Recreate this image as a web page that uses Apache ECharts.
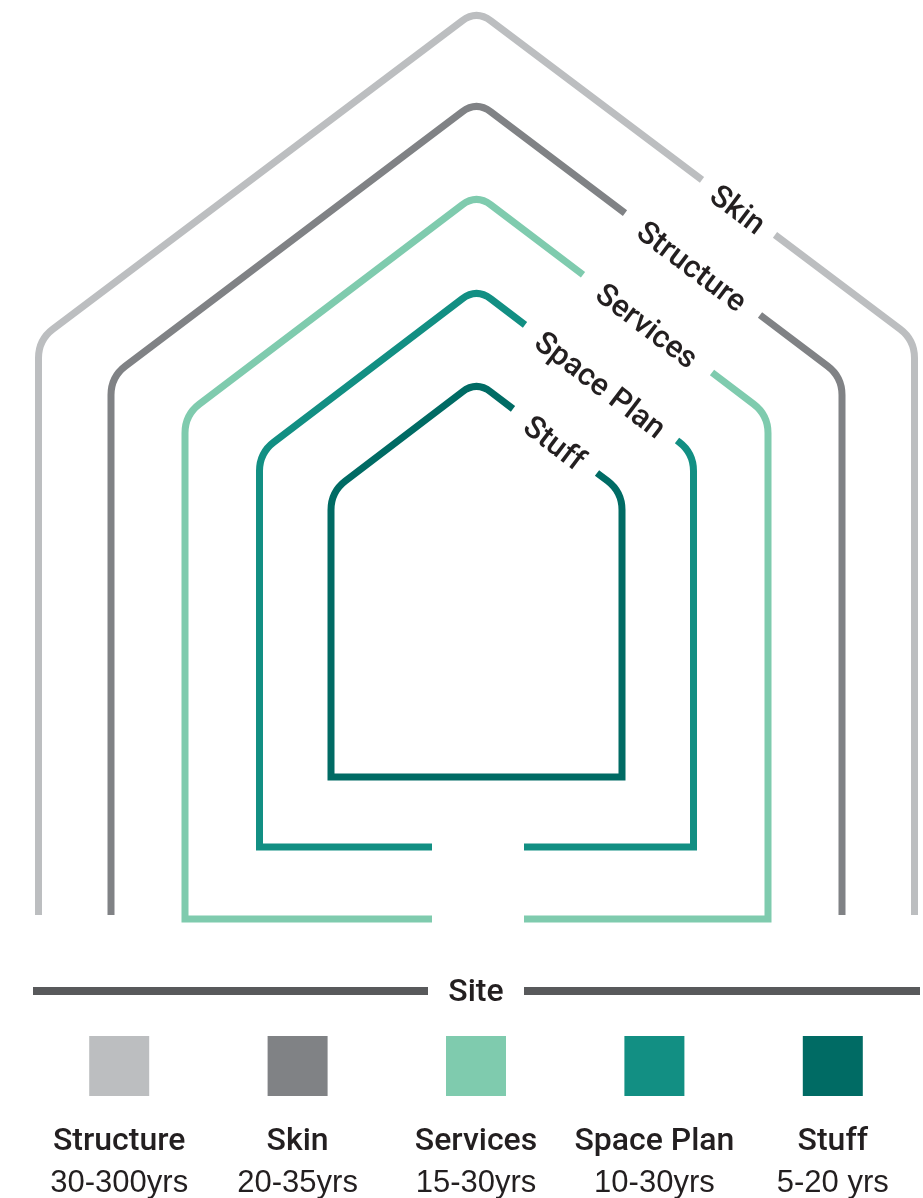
<!DOCTYPE html>
<html>
<head>
<meta charset="utf-8">
<script src="https://cdn.jsdelivr.net/npm/echarts@6/dist/echarts.min.js"></script>
<style>
html,body{margin:0;padding:0;background:#ffffff;}
#c{width:923px;height:1198px;}
</style>
</head>
<body>
<div id="c"></div>
<script>
// ---- Diagram layers (outermost first); units: px-scale diagram units, x relative to house axis, y above the site line
const diagramLabels  = ['Skin', 'Structure', 'Services', 'Space Plan', 'Stuff'];
const layerColors    = ['#BCBEC0', '#808285', '#7FCBAE', '#128F83', '#006B64'];
const layerHalfWidth = [438, 365.5, 291.5, 217, 145.5];
const layerApex      = [981, 890, 797, 703, 610];
const layerShoulder  = [651, 614, 576, 538, 499];
const layerBase      = [76, 76, 72, 144, 214];
const layerBottom    = ['open', 'open', 'split', 'split', 'closed'];
const labelGapStart  = [225.5, 148.5, 106.5, 48.5, 36.5];
const labelGapEnd    = [298.5, 283.5, 235.5, 200.5, 120.5];
const doorGap        = [-44.5, 47.5];
const siteSpan       = [-443.5, 443.5];
const siteGap        = [-48.5, 47.5];
const siteLabel      = 'Site';

// ---- Legend
const legendNames  = ['Structure', 'Skin', 'Services', 'Space Plan', 'Stuff'];
const legendYears  = ['30-300yrs', '20-35yrs', '15-30yrs', '10-30yrs', '5-20 yrs'];
const legendColors = ['#BCBEC0', '#808285', '#7FCBAE', '#128F83', '#006B64'];

const TEXT = '#231F20';
const FONT = '"Liberation Sans", Arial, Helvetica, sans-serif';
const FONT_M = 'Roboto, "Liberation Sans", Arial, sans-serif';
const LINE_W = 7;
const CORNER_R = 18;

function roundedPath(pts, radii) {
  let d = 'M' + pts[0][0] + ' ' + pts[0][1];
  for (let i = 1; i < pts.length - 1; i++) {
    const p = pts[i - 1], v = pts[i], n = pts[i + 1], r = radii[i] || 0;
    if (!r) { d += ' L' + v[0] + ' ' + v[1]; continue; }
    const l1 = Math.hypot(v[0] - p[0], v[1] - p[1]);
    const l2 = Math.hypot(n[0] - v[0], n[1] - v[1]);
    const a = [v[0] - (v[0] - p[0]) / l1 * r, v[1] - (v[1] - p[1]) / l1 * r];
    const b = [v[0] + (n[0] - v[0]) / l2 * r, v[1] + (n[1] - v[1]) / l2 * r];
    d += ' L' + a[0] + ' ' + a[1] + ' Q' + v[0] + ' ' + v[1] + ' ' + b[0] + ' ' + b[1];
  }
  const last = pts[pts.length - 1];
  d += ' L' + last[0] + ' ' + last[1];
  return d;
}

function renderLayer(params, api) {
  const i = api.value(0);
  const hw = layerHalfWidth[i], apex = layerApex[i], sh = layerShoulder[i], base = layerBase[i];
  const slope = (apex - sh) / hw;
  const yDiag = x => apex - slope * x;
  const gs = labelGapStart[i], ge = labelGapEnd[i];
  const P = (x, y) => api.coord([x, y]);
  const R = CORNER_R;
  const pieces = [];
  if (layerBottom[i] === 'closed') {
    pieces.push({
      pts: [P(ge, yDiag(ge)), P(hw, sh), P(hw, base), P(-hw, base), P(-hw, sh), P(0, apex), P(gs, yDiag(gs))],
      r: [0, R, 0, 0, R, R, 0]
    });
  } else {
    const left = [], lr = [], right = [], rr = [];
    if (layerBottom[i] === 'split') { left.push(P(doorGap[0], base)); lr.push(0); }
    left.push(P(-hw, base), P(-hw, sh), P(0, apex), P(gs, yDiag(gs)));
    lr.push(0, R, R, 0);
    right.push(P(ge, yDiag(ge)), P(hw, sh), P(hw, base));
    rr.push(0, R, 0);
    if (layerBottom[i] === 'split') { right.push(P(doorGap[1], base)); rr.push(0); }
    pieces.push({ pts: left, r: lr }, { pts: right, r: rr });
  }
  const children = pieces.map(pc => ({
    type: 'path',
    shape: { pathData: roundedPath(pc.pts, pc.r) },
    style: { fill: null, stroke: layerColors[i], lineWidth: LINE_W, lineJoin: 'miter', lineCap: 'butt' }
  }));
  const pA = P(gs, yDiag(gs)), pB = P(ge, yDiag(ge));
  const ang = Math.atan2(pB[1] - pA[1], pB[0] - pA[0]);
  children.push({
    type: 'text',
    x: (pA[0] + pB[0]) / 2 - 2,
    y: (pA[1] + pB[1]) / 2 + 4,
    rotation: -ang,
    style: {
      text: diagramLabels[i], fill: TEXT, fontSize: 31, fontWeight: 500, fontFamily: FONT_M,
      align: 'center', verticalAlign: 'middle'
    }
  });
  return { type: 'group', children: children };
}

function renderSite(params, api) {
  const a = api.coord([siteSpan[0], 0]), b = api.coord([siteGap[0], 0]);
  const c = api.coord([siteGap[1], 0]), d = api.coord([siteSpan[1], 0]);
  const st = { stroke: '#58595B', lineWidth: 8, lineCap: 'butt' };
  return {
    type: 'group',
    children: [
      { type: 'line', shape: { x1: a[0], y1: a[1], x2: b[0], y2: b[1] }, style: st },
      { type: 'line', shape: { x1: c[0], y1: c[1], x2: d[0], y2: d[1] }, style: st },
      { type: 'text', x: (b[0] + c[0]) / 2, y: b[1] + 2,
        style: { text: siteLabel, fill: TEXT, fontSize: 32, fontWeight: 500, fontFamily: FONT_M,
                 align: 'center', verticalAlign: 'middle' } }
    ]
  };
}

const chart = echarts.init(document.getElementById('c'), null, { renderer: 'canvas' });
chart.setOption({
  animation: false,
  backgroundColor: '#ffffff',
  grid: [
    { left: 0, right: 0, top: 0, bottom: 0 },
    { left: 30, right: 1, top: 1036, height: 60 }
  ],
  xAxis: [
    { type: 'value', gridIndex: 0, min: -476.5, max: 446.5, show: false },
    { type: 'category', gridIndex: 1, data: legendNames, show: false, boundaryGap: true }
  ],
  yAxis: [
    { type: 'value', gridIndex: 0, min: -207, max: 991, show: false },
    { type: 'value', gridIndex: 1, min: 0, max: 1, show: false }
  ],
  series: [
    {
      type: 'custom', xAxisIndex: 0, yAxisIndex: 0,
      data: diagramLabels.map((n, i) => [i]),
      renderItem: renderLayer, silent: true
    },
    {
      type: 'custom', xAxisIndex: 0, yAxisIndex: 0,
      data: [[0]], renderItem: renderSite, silent: true
    },
    {
      type: 'scatter', xAxisIndex: 1, yAxisIndex: 1,
      symbol: 'rect', symbolSize: 60, silent: true,
      data: legendNames.map((n, i) => ({ value: [n, 0.5], itemStyle: { color: legendColors[i], opacity: 1 } })),
      label: {
        show: true, position: 'bottom', distance: 25,
        formatter: p => '{n|' + legendNames[p.dataIndex] + '}\n{y|' + legendYears[p.dataIndex] + '}',
        rich: {
          n: { fontSize: 32, fontWeight: 500, fontFamily: FONT_M, color: TEXT, lineHeight: 41, align: 'center' },
          y: { fontSize: 31, fontFamily: FONT, color: TEXT, lineHeight: 42, align: 'center' }
        }
      }
    }
  ]
});
</script>
</body>
</html>
